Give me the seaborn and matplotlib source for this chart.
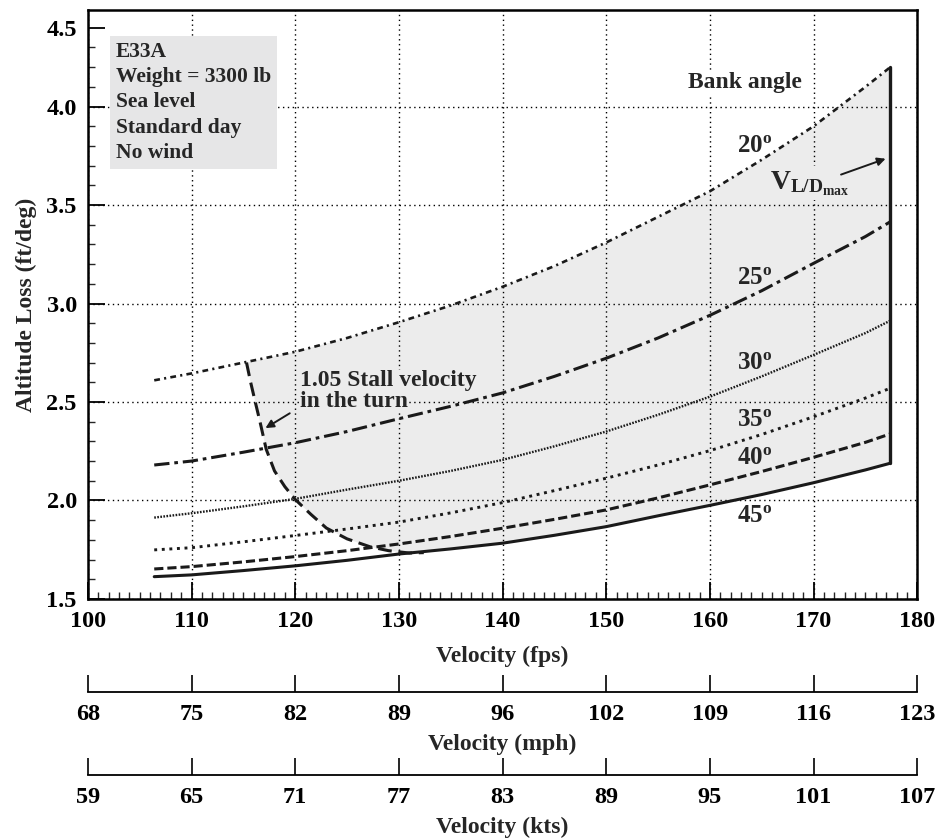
import numpy as np
import pandas as pd
import seaborn as sns
import matplotlib.pyplot as plt

# velocity (fps) sample points shared by every bank angle curve
velocity = [106.4, 110, 115, 120, 125, 130, 135, 140, 145, 150, 155, 160, 165, 170, 175, 177.4]

loss_20 = [2.61, 2.645, 2.70, 2.755, 2.825, 2.905, 2.99, 3.085, 3.19, 3.31, 3.44, 3.57, 3.73, 3.90, 4.10, 4.20]
loss_25 = [2.18, 2.20, 2.245, 2.293, 2.35, 2.415, 2.478, 2.546, 2.63, 2.722, 2.825, 2.94, 3.065, 3.204, 3.34, 3.415]
loss_30 = [1.913, 1.935, 1.97, 2.008, 2.055, 2.10, 2.15, 2.206, 2.275, 2.35, 2.435, 2.527, 2.63, 2.739, 2.85, 2.913]
loss_35 = [1.749, 1.76, 1.79, 1.822, 1.855, 1.89, 1.937, 1.989, 2.05, 2.113, 2.18, 2.253, 2.335, 2.425, 2.52, 2.57]
loss_40 = [1.652, 1.664, 1.688, 1.715, 1.745, 1.779, 1.817, 1.859, 1.904, 1.952, 2.013, 2.079, 2.147, 2.219, 2.295, 2.338]
loss_45 = [1.613, 1.622, 1.644, 1.668, 1.696, 1.728, 1.754, 1.783, 1.823, 1.867, 1.922, 1.975, 2.03, 2.09, 2.155, 2.189]

bank_angles = ["20", "25", "30", "35", "40", "45"]

# 1.05 stall velocity in the turn
stall_v = [115.3, 115.7, 116.1, 116.6, 117.2, 118.0, 119.0, 120.0, 121.5, 123.0, 125.0, 127.2, 129.0, 131.0, 132.4]
stall_loss = [2.70, 2.60, 2.51, 2.40, 2.26, 2.15, 2.07, 2.005, 1.93, 1.86, 1.805, 1.765, 1.745, 1.733, 1.735]

fps_ticks = [100, 110, 120, 130, 140, 150, 160, 170, 180]
mph_labels = ["68", "75", "82", "89", "96", "102", "109", "116", "123"]
kts_labels = ["59", "65", "71", "77", "83", "89", "95", "101", "107"]
y_ticks = [1.5, 2.0, 2.5, 3.0, 3.5, 4.0, 4.4]
y_labels = ["1.5", "2.0", "2.5", "3.0", "3.5", "4.0", "4.5"]

sns.set_theme(style="white")
plt.rcParams["font.family"] = ["Liberation Serif", "DejaVu Serif"]
plt.rcParams["font.weight"] = "bold"
plt.rcParams["mathtext.fontset"] = "custom"
plt.rcParams["mathtext.rm"] = "Liberation Serif:bold"
plt.rcParams["mathtext.it"] = "Liberation Serif:bold"
plt.rcParams["mathtext.bf"] = "Liberation Serif:bold"

ink = "#1a1a1a"
shade = "#ececec"

all_loss = [loss_20, loss_25, loss_30, loss_35, loss_40, loss_45]
df = pd.DataFrame({
    "velocity": velocity * len(bank_angles),
    "loss": np.concatenate(all_loss),
    "bank": np.repeat(bank_angles, len(velocity)),
})

fig = plt.figure(figsize=(9.35, 8.4), dpi=100)
ax = fig.add_axes([0.094, 0.287, 0.887, 0.701])

# shaded operating region
top_v = [v for v in velocity if v >= stall_v[0]]
top_y = [y for v, y in zip(velocity, loss_20) if v >= stall_v[0]]
bot_v = [v for v in velocity if v > stall_v[-1]][::-1]
bot_y = [y for v, y in zip(velocity, loss_45) if v > stall_v[-1]][::-1]
poly_x = [stall_v[0]] + top_v + bot_v + stall_v[::-1]
poly_y = [stall_loss[0]] + top_y + bot_y + stall_loss[::-1]
ax.fill(poly_x, poly_y, color=shade, zorder=0.3, lw=0)

dash_styles = {
    "20": (2.2, 1.6, 0.8, 1.6),
    "25": (5, 1.6, 1.2, 1.6),
    "30": (0.7, 0.6),
    "35": (1, 1.6),
    "40": (3, 1.3),
    "45": "",
}
widths = {"20": 1.9, "25": 2.2, "30": 1.7, "35": 2.1, "40": 2.2, "45": 2.2}

for b in bank_angles:
    sns.lineplot(data=df[df["bank"] == b], x="velocity", y="loss", ax=ax,
                 color=ink, lw=widths[b], estimator=None, legend=False)
    if dash_styles[b]:
        ax.lines[-1].set_dashes(dash_styles[b])

sns.lineplot(x=stall_v, y=stall_loss, ax=ax, color=ink, lw=2.2, sort=False,
             estimator=None, legend=False)
ax.lines[-1].set_dashes((4.5, 2.2))

# V L/D max line
ax.plot([velocity[-1], velocity[-1]], [loss_45[-1], loss_20[-1]], color=ink, lw=2.4)

ax.set_xlim(100, 180)
ax.set_ylim(1.5, 4.49)
ax.set_xticks(fps_ticks)
ax.set_xticks(np.arange(100, 181, 1), minor=True)
ax.set_yticks(y_ticks, y_labels)
ax.set_yticks(np.arange(1.5, 4.45, 0.1), minor=True)
ax.set_axisbelow(True)
ax.grid(True, which="major", color="black", lw=1.0, ls=(0, (1, 2.5)))
ax.yaxis.get_gridlines()[-1].set_visible(False)

ax.tick_params(axis="both", which="major", direction="in", length=12, width=1.3,
               labelsize=17.5, colors="black")
ax.tick_params(axis="both", which="minor", direction="in", length=5, width=1.0)
ax.tick_params(axis="x", which="both", bottom=True, top=False, pad=9)
ax.tick_params(axis="y", which="both", left=True, right=False, pad=8)
for s in ax.spines.values():
    s.set_linewidth(1.8)
    s.set_color("black")

ax.set_xlabel("Velocity (fps)", fontsize=17, fontweight="bold", labelpad=10)
ax.set_ylabel("Altitude Loss (ft/deg)", fontsize=17, fontweight="bold", labelpad=7)

# info box
ax.text(102.7, 4.33, "E33A\nWeight = 3300 lb\nSea level\nStandard day\nNo wind",
        fontsize=15.5, fontweight="bold", va="top", ha="left", linespacing=1.36,
        bbox=dict(facecolor="#e6e6e7", edgecolor="none", pad=4))

ax.text(163.4, 4.12, "Bank angle", fontsize=17, fontweight="bold", ha="center", va="center",
        bbox=dict(facecolor="white", edgecolor="none", pad=2))
label_y = [3.80, 3.13, 2.70, 2.41, 2.216, 1.926]
for b, y in zip(bank_angles, label_y):
    ax.text(164.3, y, rf"${b}^{{o}}$", fontsize=18, ha="center", va="center")

ax.text(169.6, 3.61, r"$V_{L/D_{max}}$", fontsize=20, ha="center", va="center",
        bbox=dict(facecolor=shade, edgecolor="none", pad=2))
ax.annotate("", xy=(177.2, 3.74), xytext=(172.4, 3.65),
            arrowprops=dict(arrowstyle="-|>", color=ink, lw=1.4, mutation_scale=12))

for txt, y in [("1.05 Stall velocity", 2.607), ("in the turn", 2.50)]:
    ax.text(120.5, y, txt, fontsize=17, fontweight="bold", ha="left", va="center",
            bbox=dict(facecolor=shade, edgecolor="none", pad=0.5))
ax.annotate("", xy=(116.9, 2.36), xytext=(119.7, 2.45),
            arrowprops=dict(arrowstyle="-|>", color=ink, lw=1.4, mutation_scale=12))

# extra velocity scales
for pos, labels, title in [(0.1762, mph_labels, "Velocity (mph)"),
                           (0.0774, kts_labels, "Velocity (kts)")]:
    sub = fig.add_axes([0.094, pos, 0.887, 0.001])
    sub.set_xlim(100, 180)
    sub.set_xticks(fps_ticks, labels)
    sub.set_yticks([])
    for s in ["left", "right", "top"]:
        sub.spines[s].set_visible(False)
    sub.spines["bottom"].set_linewidth(1.3)
    sub.spines["bottom"].set_color("black")
    sub.patch.set_visible(False)
    sub.tick_params(axis="x", which="major", bottom=True, top=False, direction="in",
                    length=12, width=1.2, pad=9, labelsize=17.5, colors="black")
    sub.set_xlabel(title, fontsize=17, fontweight="bold", labelpad=6)

fig.savefig("out.png", dpi=100)
